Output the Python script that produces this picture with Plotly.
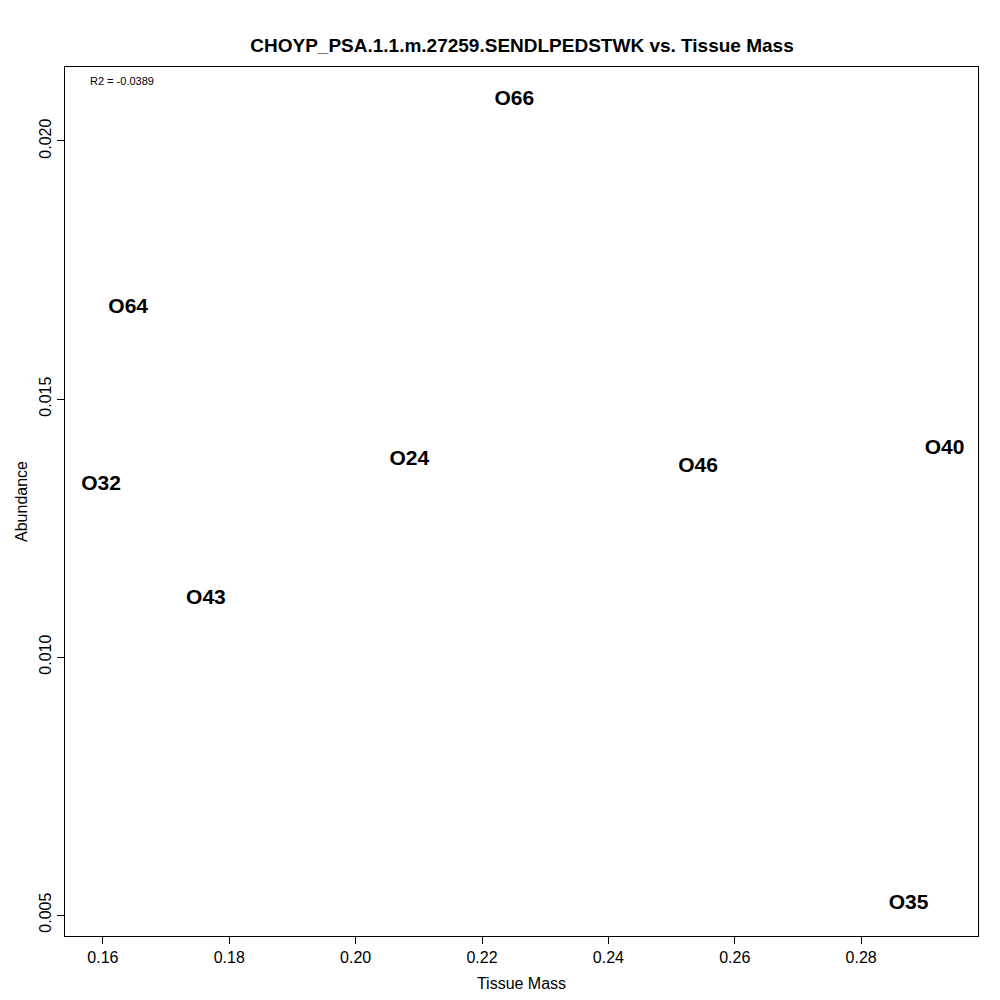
import plotly.graph_objects as go

# sample labels and values
samples = ['O66', 'O64', 'O32', 'O24', 'O46', 'O40', 'O43', 'O35']
tissue_mass = [0.2251, 0.1640, 0.1597, 0.2085, 0.2542, 0.2932, 0.1763, 0.2875]
abundance = [0.02080, 0.01676, 0.01333, 0.01382, 0.01368, 0.01403, 0.01112, 0.00521]
r2_text = 'R2 = -0.0389'

fig = go.Figure(go.Scatter(
    x=tissue_mass, y=abundance, mode='text', text=['<b>%s</b>' % s for s in samples],
    textfont=dict(family='Liberation Sans', size=21, color='black'),
    textposition='middle center', hoverinfo='skip', cliponaxis=False))

axis_style = dict(showgrid=False, zeroline=False, showline=True, mirror=True,
                  linecolor='black', linewidth=1, ticks='outside', ticklen=7,
                  tickcolor='black', tickfont=dict(size=16, color='black'))

fig.update_layout(
    width=1000, height=1000, plot_bgcolor='white', paper_bgcolor='white',
    font=dict(family='Liberation Sans', color='black'),
    margin=dict(l=57, r=30, t=59, b=72, autoexpand=False),
    title=dict(text='<b>CHOYP_PSA.1.1.m.27259.SENDLPEDSTWK vs. Tissue Mass</b>',
               x=0.514, y=0.969, xanchor='center', font=dict(size=19)),
    showlegend=False,
    xaxis=dict(range=[0.154, 0.2985], tickvals=[0.16, 0.18, 0.20, 0.22, 0.24, 0.26, 0.28],
               ticktext=['0.16', '0.18', '0.20', '0.22', '0.24', '0.26', '0.28'],
               title=dict(text='Tissue Mass', font=dict(size=16), standoff=12), **axis_style),
    yaxis=dict(range=[0.004593, 0.021434], tickvals=[0.005, 0.010, 0.015, 0.020],
               ticktext=['0.005', '0.010', '0.015', '0.020'], tickangle=-90,
               title=dict(text='Abundance', font=dict(size=16), standoff=4), **axis_style),
    annotations=[dict(text=r2_text, xref='paper', yref='paper', x=0.025, y=0.993,
                      xanchor='left', yanchor='top', showarrow=False,
                      font=dict(size=11, color='black'))],
)

fig.write_html('out.html')
